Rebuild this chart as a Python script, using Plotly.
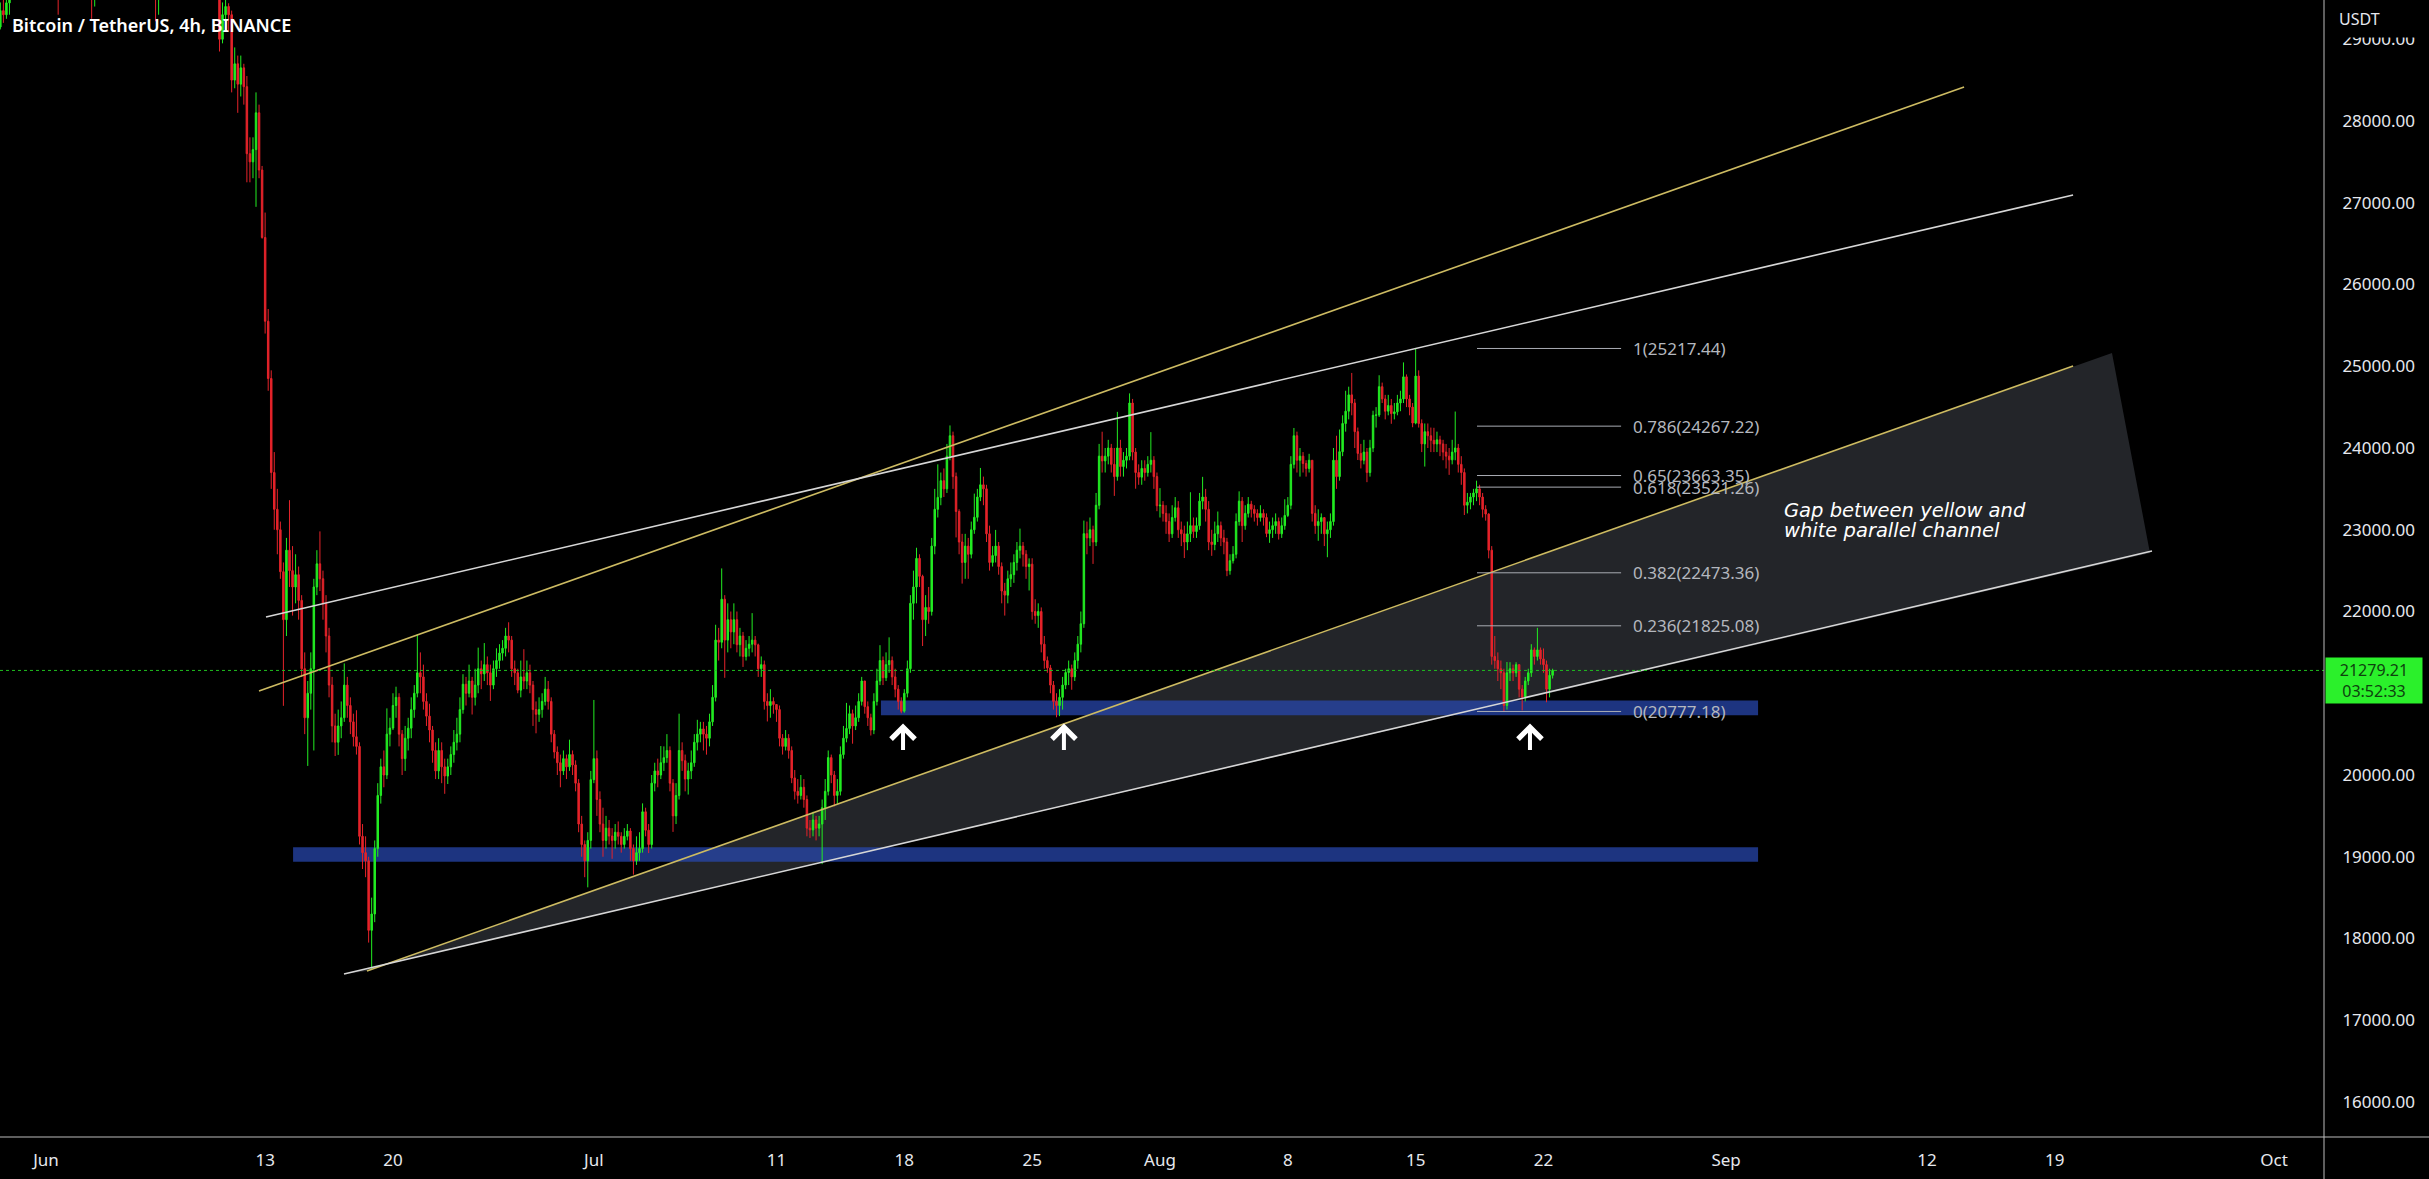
import pandas as pd
import plotly.graph_objects as go

# ---------------- data (BTC/USDT 4h candles) ----------------
first_open = 29150
start_time = "2022-05-29 12:00"

close = [
    29350, 29300, 29445,                                   # May 29 (12-20h)
    29700, 30100, 30500, 31300, 31600, 31726,              # May 30
    31900, 31700, 31800, 31600, 31750, 31793,              # May 31
    31600, 31500, 31200, 30400, 29700, 29800,              # Jun 1
    29900, 30000, 29950, 30300, 30500, 30450,              # Jun 2
    30500, 30300, 29900, 29500, 29650, 29700,              # Jun 3
    29650, 29750, 29800, 29700, 29800, 29865,              # Jun 4
    29750, 29800, 29700, 29850, 30000, 29920,              # Jun 5
    30200, 31400, 31500, 31300, 31400, 31370,              # Jun 6
    29600, 29800, 30300, 30700, 31000, 31130,              # Jun 7
    31000, 30700, 30600, 30300, 30100, 30200,              # Jun 8
    30300, 30400, 30250, 30150, 30200, 30110,              # Jun 9
    30000, 29950, 29700, 29000, 29300, 29400,              # Jun 10
    29300, 28500, 28700, 28450, 28650, 28420,              # Jun 11
    27600, 27500, 27650, 28100, 27400, 26575,              # Jun 12
    25550, 24850, 23700, 23250, 23000, 22487,              # Jun 13
    21900, 22750, 22500, 22300, 22450, 22136,              # Jun 14
    21300, 20700, 21000, 21300, 22300, 22583,              # Jun 15
    22400, 22100, 21700, 21100, 20600, 20401,              # Jun 16
    20600, 20700, 21100, 20850, 20650, 20468,              # Jun 17
    20350, 19250, 19050, 18950, 18100, 18300,              # Jun 18
    19100, 19750, 20100, 20000, 20500, 20574,              # Jun 19
    20850, 20950, 20500, 20200, 20450, 20573,              # Jun 20
    20800, 21000, 21250, 21200, 20900, 20720,              # Jun 21
    20550, 20300, 20050, 20300, 20100, 19987,              # Jun 22
    20100, 20250, 20400, 20500, 20800, 21110,              # Jun 23
    21000, 21150, 20950, 21100, 21300, 21237,              # Jun 24
    21350, 21250, 21100, 21300, 21400, 21491,              # Jun 25
    21550, 21700, 21650, 21300, 21250, 21038,              # Jun 26
    21200, 21150, 21250, 21100, 20800, 20742,              # Jun 27
    20800, 20900, 21050, 20900, 20500, 20281,              # Jun 28
    20150, 20050, 20200, 20100, 20250, 20123,              # Jun 29
    19900, 19400, 19150, 18950, 19200, 19943,              # Jun 30
    20200, 19700, 19400, 19200, 19350, 19253,              # Jul 1
    19200, 19300, 19250, 19150, 19250, 19315,              # Jul 2
    19100, 18950, 19050, 19100, 19550, 19325,              # Jul 3
    19150, 19900, 20050, 20000, 20150, 20212,              # Jul 4
    20300, 19900, 19500, 19750, 20300, 20175,              # Jul 5
    19950, 20050, 20150, 20400, 20500, 20564,              # Jul 6
    20500, 20450, 20650, 20950, 21650, 21624,              # Jul 7
    22150, 21650, 21900, 21750, 21900, 21594,              # Jul 8
    21700, 21450, 21550, 21600, 21650, 21592,              # Jul 9
    21300, 21350, 20900, 20850, 20900, 20862,              # Jul 10
    20800, 20450, 20350, 20450, 20300, 19964,              # Jul 11
    19800, 19750, 19850, 19700, 19350, 19329,              # Jul 12
    19450, 19350, 19400, 19600, 19800, 20213,              # Jul 13
    20000, 19750, 19800, 20250, 20450, 20570,              # Jul 14
    20750, 20600, 20700, 20900, 21150, 20836,              # Jul 15
    20700, 20550, 20900, 21150, 21400, 21190,              # Jul 16
    21350, 21400, 21200, 21050, 20900, 20780,              # Jul 17
    21000, 21300, 22100, 22300, 22650, 22430,              # Jul 18
    21900, 22050, 22000, 22800, 23250, 23396,              # Jul 19
    23600, 23500, 23900, 24150, 23650, 23223,              # Jul 20
    22850, 22600, 22800, 22700, 23000, 23152,              # Jul 21
    23400, 23550, 23500, 22950, 22600, 22684,              # Jul 22
    22800, 22550, 22250, 22200, 22400, 22451,              # Jul 23
    22600, 22750, 22800, 22700, 22550, 22579,              # Jul 24
    22000, 21950, 22000, 21600, 21400, 21310,              # Jul 25
    21100, 20900, 20850, 20950, 21100, 21254,              # Jul 26
    21300, 21200, 21400, 21600, 21850, 22952,              # Jul 27
    22900, 23000, 22850, 23300, 23900, 23842,              # Jul 28
    23900, 24000, 23800, 23650, 24000, 23773,              # Jul 29
    23850, 23900, 24550, 23950, 23700, 23643,              # Jul 30
    23750, 23700, 23800, 23850, 23650, 23293,              # Jul 31
    23300, 23200, 23100, 22950, 23150, 23269,              # Aug 1
    23000, 22950, 22850, 22950, 23050, 22978,              # Aug 2
    23050, 23350, 23400, 23250, 22850, 22819,              # Aug 3
    22950, 23050, 22900, 22850, 22500, 22621,              # Aug 4
    22700, 23100, 23350, 23050, 23200, 23313,              # Aug 5
    23250, 23200, 23150, 23200, 23150, 22954,              # Aug 6
    23000, 23050, 23100, 22950, 23050, 23175,              # Aug 7
    23300, 23800, 24150, 23850, 23900, 23810,              # Aug 8
    23750, 23850, 23200, 23050, 23100, 23149,              # Aug 9
    22950, 23000, 23100, 23850, 23650, 23955,              # Aug 10
    24300, 24450, 24650, 24550, 24200, 23934,              # Aug 11
    23850, 23950, 23700, 24000, 24400, 24404,              # Aug 12
    24750, 24600, 24450, 24520, 24420, 24442,              # Aug 13
    24550, 24600, 24870, 24600, 24500, 24305,              # Aug 14
    24880, 24300, 24050, 24200, 24150, 24094,              # Aug 15
    24050, 24100, 24050, 23950, 23900, 23855,              # Aug 16
    23950, 24000, 23800, 23700, 23300, 23337,              # Aug 17
    23400, 23450, 23500, 23400, 23250, 23192,              # Aug 18
    22750, 21450, 21400, 21300, 21250, 20850,              # Aug 19
    21250, 21300, 21250, 21350, 21050, 20950,              # Aug 20
    21150, 21250, 21530, 21450, 21530, 21420,              # Aug 21
    21350, 21050, 21220, 21279.21,                         # Aug 22 (0-12h)
]

high = [
    29450, 29500, 29600,
    29800, 30200, 30600, 31500, 31950, 31800,
    32100, 32000, 32000, 32400, 31900, 31900,
    31980, 31700, 31600, 31300, 30500, 30000,
    30000, 30100, 30150, 30400, 30650, 30600,
    30680, 30550, 30350, 30000, 29800, 29850,
    29800, 29850, 29900, 29850, 29950, 29950,
    29900, 29900, 29850, 30000, 30180, 30100,
    30300, 31500, 31770, 31600, 31550, 31500,
    31560, 30100, 30450, 30900, 31200, 31300,
    31330, 31100, 30900, 30700, 30400, 30350,
    30400, 30500, 30700, 30400, 30350, 30300,
    30380, 30150, 30000, 29750, 29450, 29500,
    29440, 29350, 28900, 28800, 28800, 28700,
    28550, 27800, 27800, 28350, 28200, 27450,
    26880, 25700, 24950, 23950, 23500, 23100,
    22600, 22900, 23362, 22800, 22700, 22550,
    22200, 21500, 21150, 21500, 22400, 22750,
    22980, 22500, 22200, 21800, 21200, 20750,
    20800, 20900, 21365, 21200, 20950, 20750,
    20792, 20400, 19400, 19250, 19000, 18500,
    19200, 19900, 20200, 20300, 20815, 20700,
    21000, 21080, 21000, 20550, 20600, 20700,
    20950, 21100, 21723, 21500, 21350, 21000,
    20872, 20600, 20400, 20450, 20400, 20200,
    20200, 20350, 20550, 20700, 20950, 21233,
    21200, 21350, 21200, 21300, 21558, 21400,
    21614, 21450, 21350, 21400, 21550, 21600,
    21650, 21800, 21868, 21700, 21400, 21300,
    21400, 21539, 21400, 21350, 21150, 20900,
    20950, 21000, 21200, 21150, 20950, 20550,
    20350, 20250, 20300, 20250, 20432, 20300,
    20179, 19950, 19500, 19200, 19300, 20050,
    20918, 20300, 19800, 19600, 19500, 19450,
    19350, 19400, 19432, 19300, 19350, 19400,
    19350, 19150, 19250, 19300, 19653, 19600,
    19400, 20000, 20150, 20200, 20354, 20350,
    20500, 20350, 19950, 19900, 20750, 20400,
    20250, 20150, 20300, 20500, 20675, 20650,
    20650, 20600, 20750, 21100, 21838, 21800,
    22527, 22200, 22100, 22000, 22100, 22000,
    21800, 21750, 21650, 21700, 21980, 21700,
    21607, 21450, 21400, 21000, 21050, 20950,
    20868, 20850, 20500, 20550, 20500, 20350,
    20061, 19950, 20000, 19950, 19750, 19450,
    19550, 19500, 19500, 19700, 19950, 20300,
    20250, 20050, 19950, 20350, 20600, 20882,
    20850, 20800, 20850, 21000, 21200, 21150,
    20900, 20750, 21000, 21300, 21588, 21450,
    21500, 21684, 21450, 21300, 21100, 20950,
    21050, 21400, 22200, 22500, 22780, 22700,
    22450, 22200, 22300, 22900, 23500, 23800,
    23700, 23750, 24050, 24276, 24200, 23700,
    23250, 22950, 22950, 22900, 23100, 23442,
    23500, 23756, 23650, 23550, 23050, 22800,
    22998, 22850, 22600, 22350, 22500, 22600,
    22700, 22850, 23014, 22850, 22750, 22650,
    22651, 22150, 22100, 22050, 21700, 21450,
    21347, 21150, 21000, 21050, 21200, 21300,
    21400, 21350, 21500, 21700, 22000, 23112,
    23100, 23150, 23050, 23450, 24050, 24199,
    24000, 24100, 24050, 24000, 24442, 24100,
    23950, 24000, 24668, 24600, 24000, 23800,
    23850, 23850, 23900, 24194, 23900, 23700,
    23509, 23350, 23300, 23200, 23300, 23400,
    23350, 23100, 23050, 23100, 23459, 23150,
    23150, 23450, 23647, 23500, 23350, 23000,
    23100, 23223, 23100, 23000, 22900, 22700,
    22800, 23200, 23470, 23400, 23300, 23400,
    23354, 23300, 23250, 23300, 23250, 23200,
    23100, 23150, 23200, 23150, 23150, 23373,
    23400, 23900, 24245, 24200, 24000, 23950,
    23850, 23929, 23850, 23300, 23250, 23200,
    23150, 23100, 23200, 24000, 24150, 24226,
    24400, 24700, 24750, 24918, 24600, 24250,
    24050, 24100, 24000, 24100, 24456, 24500,
    24890, 24800, 24650, 24650, 24600, 24550,
    24650, 24700, 25047, 24900, 24650, 24550,
    25217.44, 24950, 24350, 24300, 24300, 24250,
    24247, 24200, 24150, 24100, 24050, 24000,
    24100, 24446, 24050, 23900, 23750, 23450,
    23450, 23500, 23600, 23550, 23450, 23300,
    23202, 22800, 21700, 21500, 21400, 21300,
    21382, 21380, 21350, 21380, 21350, 21100,
    21200, 21300, 21600, 21560, 21800, 21560,
    21548, 21400, 21300, 21300,
]

low = [
    29120, 29200, 29250,
    29300, 29650, 30000, 30400, 31100, 31400,
    31600, 31500, 31550, 31200, 31400, 31600,
    31400, 31300, 31000, 30200, 29300, 29500,
    29570, 29750, 29800, 29850, 30200, 30300,
    30300, 30100, 29800, 29250, 29400, 29550,
    29520, 29600, 29650, 29520, 29600, 29700,
    29600, 29650, 29550, 29650, 29750, 29800,
    29880, 30150, 31200, 31100, 31200, 31200,
    29220, 29300, 29700, 30200, 30600, 30900,
    30800, 30500, 30400, 29950, 29840, 30000,
    30100, 30200, 30100, 29950, 30000, 30000,
    29900, 29800, 29550, 28850, 28950, 29150,
    29100, 28350, 28400, 28100, 28300, 28200,
    27250, 27250, 27300, 26950, 27300, 26560,
    25400, 24700, 23500, 23000, 22700, 22400,
    20846, 21700, 22300, 21950, 22100, 21900,
    21200, 20500, 20111, 20800, 20300, 22200,
    22250, 21900, 21500, 20950, 20400, 20232,
    20246, 20450, 20650, 20700, 20500, 20350,
    20250, 19150, 18850, 18750, 17950, 17622,
    18200, 19000, 19650, 19850, 19950, 20350,
    20550, 20700, 20350, 20000, 20050, 20300,
    20450, 20700, 20950, 21000, 20800, 20600,
    20400, 20150, 19950, 19950, 19900, 19770,
    19890, 20000, 20150, 20300, 20400, 20750,
    20850, 20950, 20740, 20850, 21000, 21050,
    21150, 21100, 20906, 21050, 21200, 21300,
    21400, 21450, 21500, 21200, 21100, 21000,
    20950, 21050, 21050, 21000, 20600, 20510,
    20650, 20700, 20850, 20800, 20400, 20202,
    20000, 19850, 20000, 19950, 20050, 20000,
    19800, 19300, 19000, 18750, 18626, 19100,
    19900, 19500, 19300, 19000, 19100, 19150,
    18975, 19100, 19150, 19050, 19100, 19200,
    18950, 18782, 18900, 18950, 19050, 19250,
    19045, 19100, 19800, 19850, 19950, 20050,
    20150, 19800, 19304, 19400, 19700, 20050,
    19800, 19761, 19950, 20100, 20300, 20400,
    20300, 20249, 20350, 20600, 20900, 21400,
    21550, 21189, 21500, 21550, 21600, 21500,
    21450, 21322, 21400, 21450, 21500, 21450,
    21200, 21200, 20800, 20655, 20700, 20750,
    20650, 20350, 20250, 20300, 20200, 19900,
    19700, 19650, 19700, 19600, 19250, 19230,
    19250, 19200, 19250, 18910, 19450, 19750,
    19900, 19616, 19650, 19750, 20200, 20400,
    20500, 20383, 20550, 20650, 20850, 20750,
    20600, 20483, 20500, 20850, 21100, 21100,
    21150, 21250, 21100, 20950, 20800, 20755,
    20762, 20950, 21250, 21900, 22100, 22300,
    21578, 21700, 21850, 21950, 22700, 23150,
    23300, 23400, 23450, 23850, 23500, 22906,
    22700, 22341, 22400, 22400, 22650, 22950,
    23100, 23350, 23300, 22850, 22500, 22550,
    22600, 22450, 22100, 21950, 22100, 22300,
    22350, 22500, 22650, 22550, 22400, 22257,
    21900, 21850, 21800, 21500, 21300, 21250,
    21000, 20800, 20706, 20720, 20800, 21050,
    21100, 21043, 21150, 21300, 21500, 21800,
    22700, 22800, 22582, 22800, 23250, 23700,
    23700, 23800, 23700, 23414, 23600, 23650,
    23650, 23750, 23850, 23850, 23502, 23550,
    23550, 23600, 23650, 23700, 23500, 23227,
    23150, 23100, 22950, 22850, 22900, 23100,
    22900, 22800, 22654, 22750, 22850, 22900,
    22900, 23000, 23250, 23100, 22750, 22681,
    22750, 22850, 22800, 22700, 22432, 22450,
    22587, 22650, 23050, 22850, 23000, 23150,
    23150, 23100, 23050, 23100, 23050, 22909,
    22840, 22900, 22950, 22880, 22900, 23000,
    23155, 23250, 23750, 23700, 23650, 23700,
    23650, 23700, 23100, 22950, 22865, 22950,
    22800, 22664, 22900, 23050, 23500, 23600,
    23900, 24200, 24350, 24400, 24000, 23853,
    23750, 23800, 23582, 23650, 23950, 24250,
    24380, 24550, 24350, 24400, 24296, 24350,
    24400, 24450, 24550, 24500, 24400, 24254,
    24290, 24250, 23950, 23773, 24000, 23950,
    23950, 23950, 23900, 23850, 23750, 23671,
    23800, 23850, 23700, 23550, 23180, 23200,
    23250, 23300, 23350, 23300, 23150, 23111,
    22650, 21350, 21300, 21150, 21050, 20777.18,
    20800, 21150, 21150, 21200, 20950, 20790,
    20900, 21100, 21200, 21350, 21400, 21350,
    21250, 20890, 20950, 21180,
]

# x-axis tick labels
tick_dates = ["2022-06-01", "2022-06-13", "2022-06-20", "2022-07-01", "2022-07-11",
              "2022-07-18", "2022-07-25", "2022-08-01", "2022-08-08", "2022-08-15",
              "2022-08-22", "2022-09-01", "2022-09-12", "2022-09-19", "2022-10-01"]
tick_text = ["Jun", "13", "20", "Jul", "11", "18", "25", "Aug", "8", "15", "22",
             "Sep", "12", "19", "Oct"]
price_ticks = list(range(16000, 30000, 1000))

# Fibonacci retracement levels
fib_ratios = ["1", "0.786", "0.65", "0.618", "0.382", "0.236", "0"]
fib_prices = [25217.44, 24267.22, 23663.35, 23521.26, 22473.36, 21825.08, 20777.18]
fib_start, fib_end = "2022-08-18 08:38", "2022-08-26 06:00"

# drawing anchors (date, price)
yellow_upper = [("2022-06-12 15:56", 21027), ("2022-09-14 00:43", 28416)]
white_upper = [("2022-06-13 01:08", 21933), ("2022-09-20 00:00", 27095)]
yellow_lower = [("2022-06-18 13:52", 17603), ("2022-09-20 00:00", 25003)]
white_lower = [("2022-06-17 07:38", 17566), ("2022-09-24 07:41", 22740)]
gap_polygon = [("2022-06-18 13:52", 17603), ("2022-09-22 03:07", 25162),
               ("2022-09-24 05:02", 22716), ("2022-06-17 07:38", 17566)]

support_zones = [  # (from, to, low, high)
    ("2022-06-14 12:43", "2022-09-02 18:00", 18940, 19115),
    ("2022-07-16 17:17", "2022-09-02 18:00", 20730, 20912),
]
arrow_dates = ["2022-07-17 22:19", "2022-07-26 17:46", "2022-08-21 06:14"]
arrow_tip_price = 20630
note_lines = ["Gap between yellow and", "white parallel channel"]
note_anchor = ("2022-09-04 01:26", 23113)

last_price = 21279.21
countdown = "03:52:33"
title = "Bitcoin / TetherUS, 4h, BINANCE"

x_range = ["2022-05-29 11:33", "2022-10-03 17:45"]
y_range = [15572, 29480]

# ---------------- styling ----------------
GREEN = "#22ec22"
RED = "#e5232a"
YELLOW = "#cdbb62"
WHITE_LINE = "#d6d6d6"
AXIS_COLOR = "#bcbcbc"
TEXT = "#e6e8ee"
FONT = "Noto Sans"

n = min(len(close), len(high), len(low))
close, high, low = close[:n], high[:n], low[:n]
times = pd.date_range(start_time, periods=n, freq="4h")
opens = [first_open] + close[:-1]
high = [max(h, o, c) for h, o, c in zip(high, opens, close)]
low = [min(l, o, c) for l, o, c in zip(low, opens, close)]

fig = go.Figure()
fig.add_trace(go.Candlestick(
    x=times, open=opens, high=high, low=low, close=close,
    increasing=dict(line=dict(color=GREEN, width=1), fillcolor=GREEN),
    decreasing=dict(line=dict(color=RED, width=1), fillcolor=RED),
    whiskerwidth=0, showlegend=False, hoverinfo="skip",
))

shapes = []
# grey gap area (dates in SVG paths use "_" instead of a space)
path = "M " + " L ".join(f"{d.replace(' ', '_')},{p}" for d, p in gap_polygon) + " Z"
shapes.append(dict(type="path", xref="x", yref="y", path=path,
                   fillcolor="#232529", line=dict(width=0), layer="below"))
# blue support zones
for x0, x1, y0, y1 in support_zones:
    shapes.append(dict(type="rect", xref="x", yref="y", x0=x0, x1=x1, y0=y0, y1=y1,
                       fillcolor="rgba(40,72,178,0.72)", line=dict(width=0), layer="below"))
# trend lines
for seg, col in [(yellow_upper, YELLOW), (white_upper, WHITE_LINE),
                 (yellow_lower, YELLOW), (white_lower, WHITE_LINE)]:
    (xa, ya), (xb, yb) = seg
    shapes.append(dict(type="line", xref="x", yref="y", x0=xa, y0=ya, x1=xb, y1=yb,
                       line=dict(color=col, width=1.6)))
# fib lines
for p in fib_prices:
    shapes.append(dict(type="line", xref="x", yref="y", x0=fib_start, x1=fib_end, y0=p, y1=p,
                       line=dict(color="#a9acb3", width=1)))
# last price dotted line
shapes.append(dict(type="line", xref="paper", yref="y", x0=0, x1=1, y0=last_price, y1=last_price,
                   line=dict(color="#1fbf1f", width=1, dash="dot")))
# axis border lines
shapes.append(dict(type="line", xref="paper", yref="paper", x0=1, x1=1, y0=-0.05, y1=1,
                   line=dict(color=AXIS_COLOR, width=1)))
shapes.append(dict(type="line", xref="paper", yref="paper", x0=0, x1=1.06, y0=0, y1=0,
                   line=dict(color=AXIS_COLOR, width=1)))

annotations = []
for r, p in zip(fib_ratios, fib_prices):
    annotations.append(dict(x=fib_end, y=p, xref="x", yref="y", text=f"{r}({p:.2f})",
                            showarrow=False, xanchor="left", yanchor="middle", xshift=10,
                            font=dict(family=FONT, size=17, color="#b4b7be")))
# white up-arrows (chevron arrowheads)
for d in arrow_dates:
    annotations.append(dict(x=d, y=arrow_tip_price, xref="x", yref="y", text="",
                            showarrow=True, arrowhead=4, arrowsize=1.15, arrowwidth=4,
                            arrowcolor="#ffffff", ax=0, ay=28, standoff=0))
for i, line in enumerate(note_lines):
    annotations.append(dict(x=note_anchor[0], y=note_anchor[1], xref="x", yref="y", text=line,
                            showarrow=False, xanchor="left", yanchor="middle",
                            yshift=10 - 20 * i,
                            font=dict(family="DejaVu Sans", size=19.5, color="#ffffff",
                                      style="italic")))
annotations.append(dict(x=0, y=1, xref="paper", yref="paper", text=title, showarrow=False,
                        xanchor="left", yanchor="top", xshift=10, yshift=-11,
                        font=dict(family=FONT, size=18, color="#ffffff", weight=600)))
annotations.append(dict(x=1, y=1, xref="paper", yref="paper", text="USDT", showarrow=False,
                        xanchor="left", yanchor="top", xshift=14, width=88, height=36,
                        align="left", valign="middle", bgcolor="#000000", borderpad=0,
                        font=dict(family=FONT, size=16, color=TEXT)))
annotations.append(dict(x=1, y=last_price, xref="paper", yref="y",
                        text=f"{last_price:.2f}<br>{countdown}", showarrow=False,
                        xanchor="left", yanchor="middle", yshift=-10, xshift=1,
                        width=96, height=45, align="center", valign="middle",
                        bgcolor="#2bf02b", borderpad=0,
                        font=dict(family=FONT, size=16, color="#0e420e")))

fig.update_layout(
    width=2429, height=1179,
    margin=dict(l=0, r=105, t=0, b=42),
    paper_bgcolor="#000000", plot_bgcolor="#000000",
    shapes=shapes, annotations=annotations,
    showlegend=False, hovermode=False,
    xaxis=dict(range=x_range, type="date", rangeslider=dict(visible=False),
               tickvals=tick_dates, ticktext=tick_text, showgrid=False, zeroline=False,
               showline=False, ticks="outside", ticklen=8, tickcolor="rgba(0,0,0,0)",
               tickfont=dict(family=FONT, size=17, color=TEXT)),
    yaxis=dict(range=y_range, side="right", tickvals=price_ticks, tickformat=".2f",
               showgrid=False, zeroline=False, showline=False,
               ticks="outside", ticklen=14, tickcolor="rgba(0,0,0,0)",
               tickfont=dict(family=FONT, size=17, color=TEXT)),
)

fig.write_html("out.html", config={"displayModeBar": False},
               post_script="document.body.style.margin='0';document.body.style.background='#000';")
